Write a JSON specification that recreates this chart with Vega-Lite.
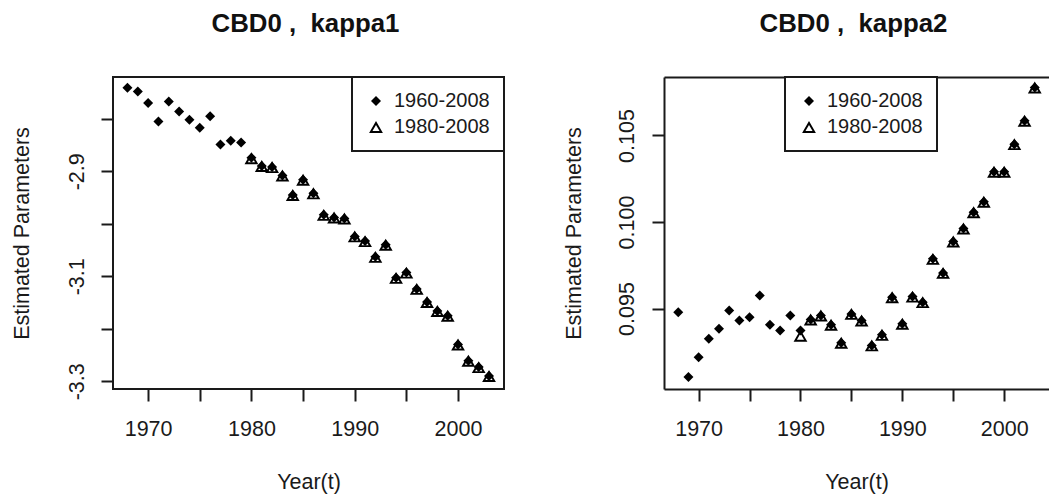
{
  "$schema": "https://vega.github.io/schema/vega-lite/v6.json",
  "background": "white",
  "padding": {"left": 10, "top": 10, "right": 0, "bottom": 0},
  "spacing": 57,
  "datasets": {
    "kappa": [
      {"year": 1968, "period": "1960-2008", "k1": -2.741, "k2": 0.09479},
      {"year": 1969, "period": "1960-2008", "k1": -2.748, "k2": 0.09105},
      {"year": 1970, "period": "1960-2008", "k1": -2.770, "k2": 0.09219},
      {"year": 1971, "period": "1960-2008", "k1": -2.805, "k2": 0.09325},
      {"year": 1972, "period": "1960-2008", "k1": -2.767, "k2": 0.09383},
      {"year": 1973, "period": "1960-2008", "k1": -2.786, "k2": 0.09488},
      {"year": 1974, "period": "1960-2008", "k1": -2.802, "k2": 0.09431},
      {"year": 1975, "period": "1960-2008", "k1": -2.817, "k2": 0.09450},
      {"year": 1976, "period": "1960-2008", "k1": -2.795, "k2": 0.09575},
      {"year": 1977, "period": "1960-2008", "k1": -2.849, "k2": 0.09406},
      {"year": 1978, "period": "1960-2008", "k1": -2.842, "k2": 0.09373},
      {"year": 1979, "period": "1960-2008", "k1": -2.845, "k2": 0.09460},
      {"year": 1980, "period": "1960-2008", "k1": -2.874, "k2": 0.09373},
      {"year": 1981, "period": "1960-2008", "k1": -2.890, "k2": 0.09437},
      {"year": 1982, "period": "1960-2008", "k1": -2.892, "k2": 0.09460},
      {"year": 1983, "period": "1960-2008", "k1": -2.908, "k2": 0.09406},
      {"year": 1984, "period": "1960-2008", "k1": -2.945, "k2": 0.09302},
      {"year": 1985, "period": "1960-2008", "k1": -2.916, "k2": 0.09469},
      {"year": 1986, "period": "1960-2008", "k1": -2.942, "k2": 0.09431},
      {"year": 1987, "period": "1960-2008", "k1": -2.983, "k2": 0.09287},
      {"year": 1988, "period": "1960-2008", "k1": -2.988, "k2": 0.09348},
      {"year": 1989, "period": "1960-2008", "k1": -2.990, "k2": 0.09565},
      {"year": 1990, "period": "1960-2008", "k1": -3.024, "k2": 0.09412},
      {"year": 1991, "period": "1960-2008", "k1": -3.033, "k2": 0.09569},
      {"year": 1992, "period": "1960-2008", "k1": -3.063, "k2": 0.09537},
      {"year": 1993, "period": "1960-2008", "k1": -3.040, "k2": 0.09787},
      {"year": 1994, "period": "1960-2008", "k1": -3.103, "k2": 0.09706},
      {"year": 1995, "period": "1960-2008", "k1": -3.093, "k2": 0.09887},
      {"year": 1996, "period": "1960-2008", "k1": -3.124, "k2": 0.09963},
      {"year": 1997, "period": "1960-2008", "k1": -3.149, "k2": 0.10056},
      {"year": 1998, "period": "1960-2008", "k1": -3.166, "k2": 0.10117},
      {"year": 1999, "period": "1960-2008", "k1": -3.175, "k2": 0.10290},
      {"year": 2000, "period": "1960-2008", "k1": -3.230, "k2": 0.10290},
      {"year": 2001, "period": "1960-2008", "k1": -3.261, "k2": 0.10450},
      {"year": 2002, "period": "1960-2008", "k1": -3.273, "k2": 0.10585},
      {"year": 2003, "period": "1960-2008", "k1": -3.290, "k2": 0.10777},
      {"year": 1980, "period": "1980-2008", "k1": -2.875, "k2": 0.09343},
      {"year": 1981, "period": "1980-2008", "k1": -2.890, "k2": 0.09437},
      {"year": 1982, "period": "1980-2008", "k1": -2.892, "k2": 0.09460},
      {"year": 1983, "period": "1980-2008", "k1": -2.908, "k2": 0.09406},
      {"year": 1984, "period": "1980-2008", "k1": -2.945, "k2": 0.09302},
      {"year": 1985, "period": "1980-2008", "k1": -2.916, "k2": 0.09469},
      {"year": 1986, "period": "1980-2008", "k1": -2.942, "k2": 0.09431},
      {"year": 1987, "period": "1980-2008", "k1": -2.983, "k2": 0.09287},
      {"year": 1988, "period": "1980-2008", "k1": -2.988, "k2": 0.09348},
      {"year": 1989, "period": "1980-2008", "k1": -2.990, "k2": 0.09565},
      {"year": 1990, "period": "1980-2008", "k1": -3.024, "k2": 0.09412},
      {"year": 1991, "period": "1980-2008", "k1": -3.033, "k2": 0.09569},
      {"year": 1992, "period": "1980-2008", "k1": -3.063, "k2": 0.09537},
      {"year": 1993, "period": "1980-2008", "k1": -3.040, "k2": 0.09787},
      {"year": 1994, "period": "1980-2008", "k1": -3.103, "k2": 0.09706},
      {"year": 1995, "period": "1980-2008", "k1": -3.093, "k2": 0.09887},
      {"year": 1996, "period": "1980-2008", "k1": -3.124, "k2": 0.09963},
      {"year": 1997, "period": "1980-2008", "k1": -3.149, "k2": 0.10056},
      {"year": 1998, "period": "1980-2008", "k1": -3.166, "k2": 0.10117},
      {"year": 1999, "period": "1980-2008", "k1": -3.175, "k2": 0.10290},
      {"year": 2000, "period": "1980-2008", "k1": -3.230, "k2": 0.10290},
      {"year": 2001, "period": "1980-2008", "k1": -3.261, "k2": 0.10450},
      {"year": 2002, "period": "1980-2008", "k1": -3.273, "k2": 0.10585},
      {"year": 2003, "period": "1980-2008", "k1": -3.290, "k2": 0.10777}
    ]
  },
  "config": {
    "font": "Liberation Sans",
    "view": {"stroke": "#1a1a1a", "strokeWidth": 2},
    "axis": {
      "grid": false,
      "labelFont": "Liberation Sans",
      "labelFontSize": 21.5,
      "labelColor": "#1a1a1a",
      "titleFont": "Liberation Sans",
      "titleFontSize": 21.5,
      "titleFontWeight": "normal",
      "titleColor": "#1a1a1a",
      "tickColor": "#1a1a1a",
      "tickSize": 12,
      "tickWidth": 2,
      "domainColor": "#1a1a1a",
      "domainWidth": 2
    },
    "title": {
      "font": "Liberation Sans",
      "fontSize": 25.8,
      "fontWeight": "bold",
      "color": "#111111",
      "anchor": "middle",
      "offset": 38,
      "dx": -3
    },
    "legend": {
      "title": null,
      "labelFont": "Liberation Sans",
      "labelFontSize": 20,
      "labelColor": "#1a1a1a",
      "labelLimit": 0,
      "labelOffset": 8,
      "padding": 14,
      "rowPadding": 6,
      "strokeColor": "#1a1a1a",
      "strokeWidth": 2,
      "fillColor": "white",
      "symbolFillColor": "#000000",
      "symbolStrokeWidth": 0
    }
  },
  "hconcat": [
    {
      "width": 391,
      "height": 312,
      "title": "CBD0 ,\u00a0 kappa1",
      "data": {"name": "kappa"},
      "mark": {"type": "point", "filled": true, "color": "#000000", "opacity": 1, "strokeWidth": 0},
      "encoding": {
        "x": {
          "field": "year",
          "type": "quantitative",
          "scale": {"domain": [1966.6, 2004.45], "nice": false, "zero": false},
          "axis": {
            "title": "Year(t)",
            "values": [1970, 1975, 1980, 1985, 1990, 1995, 2000],
            "format": "d",
            "labelExpr": "datum.value % 10 == 0 ? datum.label : ''",
            "domain": false,
            "labelPadding": 17,
            "titlePadding": 32
          }
        },
        "y": {
          "field": "k1",
          "type": "quantitative",
          "scale": {"domain": [-3.3147, -2.7204], "nice": false, "zero": false},
          "axis": {
            "title": "Estimated Parameters",
            "values": [-3.3, -3.2, -3.1, -3.0, -2.9, -2.8],
            "labelExpr": "round(datum.value * 10) % 2 != 0 ? '-' + format(-datum.value, '.1f') : ''",
            "labelAngle": -90,
            "labelAlign": "center",
            "labelBaseline": "bottom",
            "domain": false,
            "labelPadding": 12.5,
            "titlePadding": 33
          }
        },
        "shape": {
          "field": "period",
          "type": "nominal",
          "scale": {
            "domain": ["1960-2008", "1980-2008"],
            "range": ["diamond", "M-1,0.866L1,0.866L0,-0.866ZM-0.515,0.586L0,-0.306L0.515,0.586Z"]
          },
          "legend": {"orient": "top-right", "offset": 0}
        },
        "size": {
          "field": "period",
          "type": "nominal",
          "scale": {"domain": ["1960-2008", "1980-2008"], "range": [100, 190]},
          "legend": {"orient": "top-right", "offset": 0}
        }
      }
    },
    {
      "width": 385,
      "height": 312,
      "title": "CBD0 ,\u00a0 kappa2",
      "view": {"stroke": null},
      "data": {"name": "kappa"},
      "encoding": {
        "y": {
          "field": "k2",
          "type": "quantitative",
          "scale": {"domain": [0.09035, 0.10838], "nice": false, "zero": false},
          "axis": {
            "title": "Estimated Parameters",
            "values": [0.095, 0.1, 0.105],
            "format": ".3f",
            "labelAngle": -90,
            "labelAlign": "center",
            "labelBaseline": "bottom",
            "domain": true,
            "labelPadding": 13.5,
            "titlePadding": 31
          }
        },
        "shape": {
          "field": "period",
          "type": "nominal",
          "scale": {
            "domain": ["1960-2008", "1980-2008"],
            "range": ["diamond", "M-1,0.866L1,0.866L0,-0.866ZM-0.515,0.586L0,-0.306L0.515,0.586Z"]
          },
          "legend": {"orient": "none", "legendX": 121, "legendY": 0}
        },
        "size": {
          "field": "period",
          "type": "nominal",
          "scale": {"domain": ["1960-2008", "1980-2008"], "range": [100, 190]},
          "legend": {"orient": "none", "legendX": 121, "legendY": 0}
        }
      },
      "layer": [
        {
          "transform": [{"filter": "datum.period == '1960-2008'"}],
          "mark": {"type": "point", "filled": true, "color": "#000000", "opacity": 1, "strokeWidth": 0},
          "encoding": {
            "x": {
              "field": "year",
              "type": "quantitative",
              "scale": {"domain": [1966.6, 2004.4], "nice": false, "zero": false},
              "axis": {
                "title": "Year(t)",
                "values": [1970, 1975, 1980, 1985, 1990, 1995, 2000],
                "format": "d",
                "labelExpr": "datum.value % 10 == 0 ? datum.label : ''",
                "domain": true,
                "labelPadding": 17,
                "titlePadding": 32
              }
            }
          }
        },
        {
          "transform": [{"filter": "datum.period == '1980-2008'"}],
          "mark": {"type": "point", "filled": true, "color": "#000000", "opacity": 1, "strokeWidth": 0},
          "encoding": {
            "x": {
              "field": "year",
              "type": "quantitative",
              "scale": {"domain": [1966.6, 2004.4], "nice": false, "zero": false},
              "axis": {
                "orient": "top",
                "title": null,
                "labels": false,
                "ticks": false,
                "domain": true
              }
            }
          }
        }
      ],
      "resolve": {"axis": {"x": "independent"}}
    }
  ]
}
